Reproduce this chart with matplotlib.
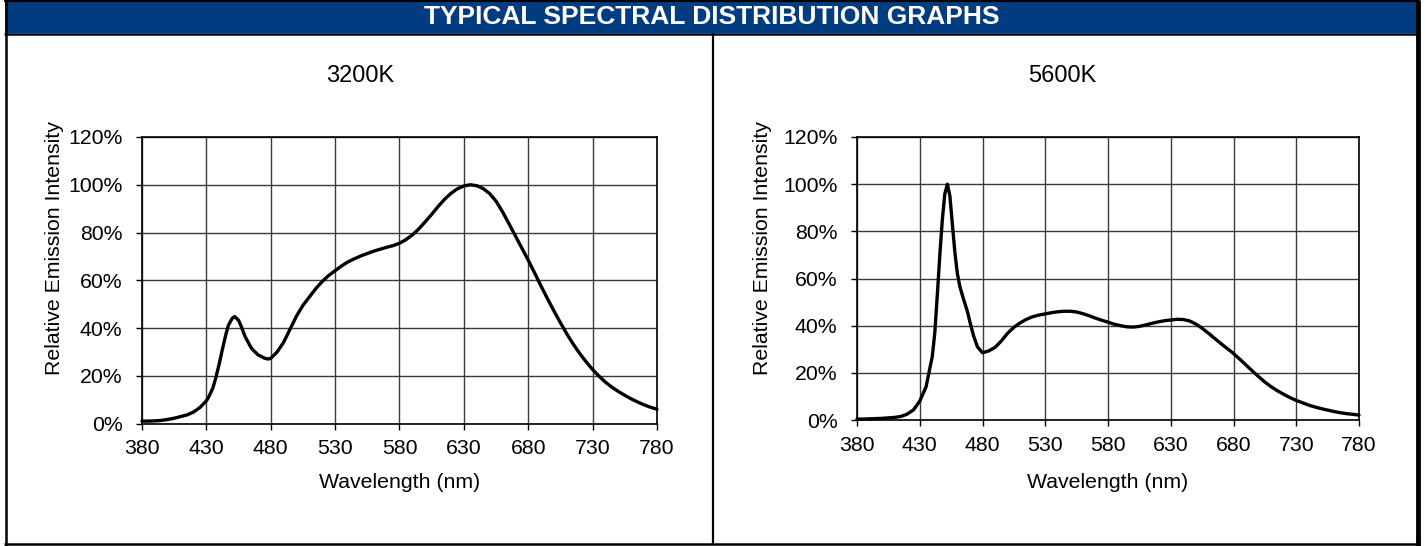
import matplotlib
matplotlib.use("Agg")
import matplotlib.pyplot as plt
from matplotlib.patches import Rectangle
from matplotlib.lines import Line2D

# ---------------- data ----------------
header_title = "TYPICAL SPECTRAL DISTRIBUTION GRAPHS"
panel_titles = ["3200K", "5600K"]
x_label = "Wavelength (nm)"
y_label = "Relative Emission Intensity"

x_ticks = [380, 430, 480, 530, 580, 630, 680, 730, 780]
y_ticks = [0, 20, 40, 60, 80, 100, 120]
y_tick_labels = ["0%", "20%", "40%", "60%", "80%", "100%", "120%"]

wl_3200 = [380, 385, 390, 395, 400, 405, 410, 415, 420, 425, 430, 432, 435, 437, 440, 442,
           445, 447, 450, 452, 455, 457, 460, 465, 470, 475, 478, 480, 485, 490, 495, 500,
           505, 510, 515, 520, 525, 530, 535, 540, 545, 550, 555, 560, 565, 570, 575,
           580, 585, 590, 595, 600, 605, 610, 615, 620, 625, 630, 635, 640, 645,
           650, 655, 660, 665, 670, 675, 680, 685, 690, 695, 700, 705, 710, 715,
           720, 725, 730, 735, 740, 745, 750, 755, 760, 765, 770, 775, 780]
rel_3200 = [1.0, 1.0, 1.1, 1.3, 1.7, 2.2, 2.9, 3.6, 4.8, 6.7, 9.5, 11.3, 14.8, 18.5, 25.0, 30.0,
            37.0, 41.0, 44.0, 44.8, 43.2, 40.8, 36.5, 31.5, 28.8, 27.4, 27.0, 27.3, 30.0, 34.0, 39.5, 45.0,
            49.5, 53.0, 56.5, 59.5, 62.0, 64.0, 66.0, 67.7, 69.0, 70.2, 71.2, 72.2, 73.0, 73.8, 74.5,
            75.5, 77.0, 79.0, 81.5, 84.5, 87.6, 90.9, 93.9, 96.4, 98.3, 99.5, 100.0, 99.6, 98.4,
            96.3, 93.1, 88.7, 83.7, 78.6, 73.5, 68.4, 63.0, 57.5, 52.2, 47.1, 42.2, 37.5, 33.2,
            29.3, 25.8, 22.6, 19.8, 17.3, 15.2, 13.4, 11.8, 10.3, 9.0, 7.8, 6.8, 6.0]

wl_5600 = [380, 385, 390, 395, 400, 405, 410, 415, 420, 425, 430, 435, 440, 442, 444,
           446, 448, 450, 452, 454, 456, 458, 460, 462, 465, 468, 470, 473, 476, 480,
           485, 490, 495, 500, 505, 510, 515, 520, 525, 530, 535, 540, 545, 550, 555,
           560, 565, 570, 575, 580, 585, 590, 595, 600, 605, 610, 615, 620, 625, 630,
           635, 640, 645, 650, 655, 660, 665, 670, 675, 680, 685, 690, 695, 700, 705,
           710, 715, 720, 725, 730, 735, 740, 745, 750, 755, 760, 765, 770, 775, 780]
rel_5600 = [0.4, 0.4, 0.5, 0.6, 0.7, 0.9, 1.1, 1.5, 2.5, 4.3, 8.0, 14.0, 27.0, 37.0, 53.0,
            70.0, 85.0, 96.0, 100.0, 95.0, 83.0, 71.0, 62.0, 56.5, 51.0, 46.0, 41.5, 35.5, 31.0, 28.5,
            29.3, 30.8, 33.5, 36.8, 39.3, 41.2, 42.7, 43.8, 44.5, 45.0, 45.5, 45.9, 46.1, 46.1, 45.8,
            45.1, 44.2, 43.2, 42.3, 41.5, 40.6, 40.0, 39.5, 39.4, 39.7, 40.3, 41.0, 41.6, 42.1, 42.4,
            42.7, 42.6, 42.0, 40.7, 38.9, 36.8, 34.6, 32.4, 30.3, 28.2, 25.8, 23.3, 20.8, 18.4, 16.1,
            14.1, 12.4, 10.9, 9.5, 8.3, 7.3, 6.3, 5.5, 4.8, 4.2, 3.6, 3.1, 2.7, 2.4, 2.1]

series = [(wl_3200, rel_3200), (wl_5600, rel_5600)]

# ---------------- layout ----------------
W, H = 1426, 546
plt.rcParams['font.family'] = ['Liberation Sans', 'DejaVu Sans']
fig = plt.figure(figsize=(W / 100, H / 100), dpi=100)
fig.patch.set_facecolor('white')


def fx(x):
    return x / W


def fy(y):
    return 1 - y / H


navy = '#023c80'
# header bar
fig.add_artist(Rectangle((fx(5), fy(33)), fx(1418) - fx(5), fy(1) - fy(33),
                         transform=fig.transFigure, facecolor=navy, edgecolor='none', zorder=0))
fig.text(fx(712), fy(17.5), header_title, color='white', fontsize=19, fontweight='bold',
         ha='center', va='center')

# borders
def hline(y, x0, x1, lw):
    fig.add_artist(Line2D([fx(x0), fx(x1)], [fy(y), fy(y)], transform=fig.transFigure,
                          color='black', lw=lw, solid_capstyle='butt'))


def vline(x, y0, y1, lw):
    fig.add_artist(Line2D([fx(x), fx(x)], [fy(y0), fy(y1)], transform=fig.transFigure,
                          color='black', lw=lw, solid_capstyle='butt'))


hline(1, 4, 1420, 1.5)
hline(33.5, 4, 1420, 1.8)
hline(544, 4, 1420, 1.8)
vline(6.2, 0, 545.5, 1.8)
vline(1417.5, 0, 545.5, 3.5)
vline(713.5, 33, 545, 1.6)

axes_px = [(142, 137, 657, 423.5), (857, 137, 1359, 420)]
title_x = [360, 1062]
ylabel_x = [55, 762]

for i, (x0, y0, x1, y1) in enumerate(axes_px):
    ax = fig.add_axes([fx(x0), fy(y1), fx(x1) - fx(x0), fy(y0) - fy(y1)])
    wl, rel = series[i]
    ax.plot(wl, rel, color='black', lw=2.4, solid_capstyle='round', solid_joinstyle='round',
            zorder=3, clip_on=False)
    ax.set_xlim(380, 780)
    ax.set_ylim(0, 120)
    ax.set_xticks(x_ticks)
    ax.set_xticklabels([str(t) for t in x_ticks])
    ax.set_yticks(y_ticks)
    ax.set_yticklabels(y_tick_labels)
    ax.grid(True, color='#3a3a3a', lw=1.0)
    ax.set_axisbelow(True)
    for s in ax.spines.values():
        s.set_color('black')
        s.set_linewidth(1.2)
    ax.tick_params(direction='out', length=4, width=1.0, colors='black', labelsize=15.3)
    ax.tick_params(axis='y', pad=10)
    ax.tick_params(axis='x', pad=7.5)
    cx = (x0 + x1) / 2
    fig.text(fx(title_x[i]), fy(76), panel_titles[i], fontsize=17, ha='center', va='center')
    fig.text(fx(cx), fy(482), x_label, fontsize=15.3, ha='center', va='center')
    fig.text(fx(ylabel_x[i]), fy(248), y_label, fontsize=15.3, ha='center', va='center',
             rotation=90)

fig.savefig('out.png', dpi=100)
